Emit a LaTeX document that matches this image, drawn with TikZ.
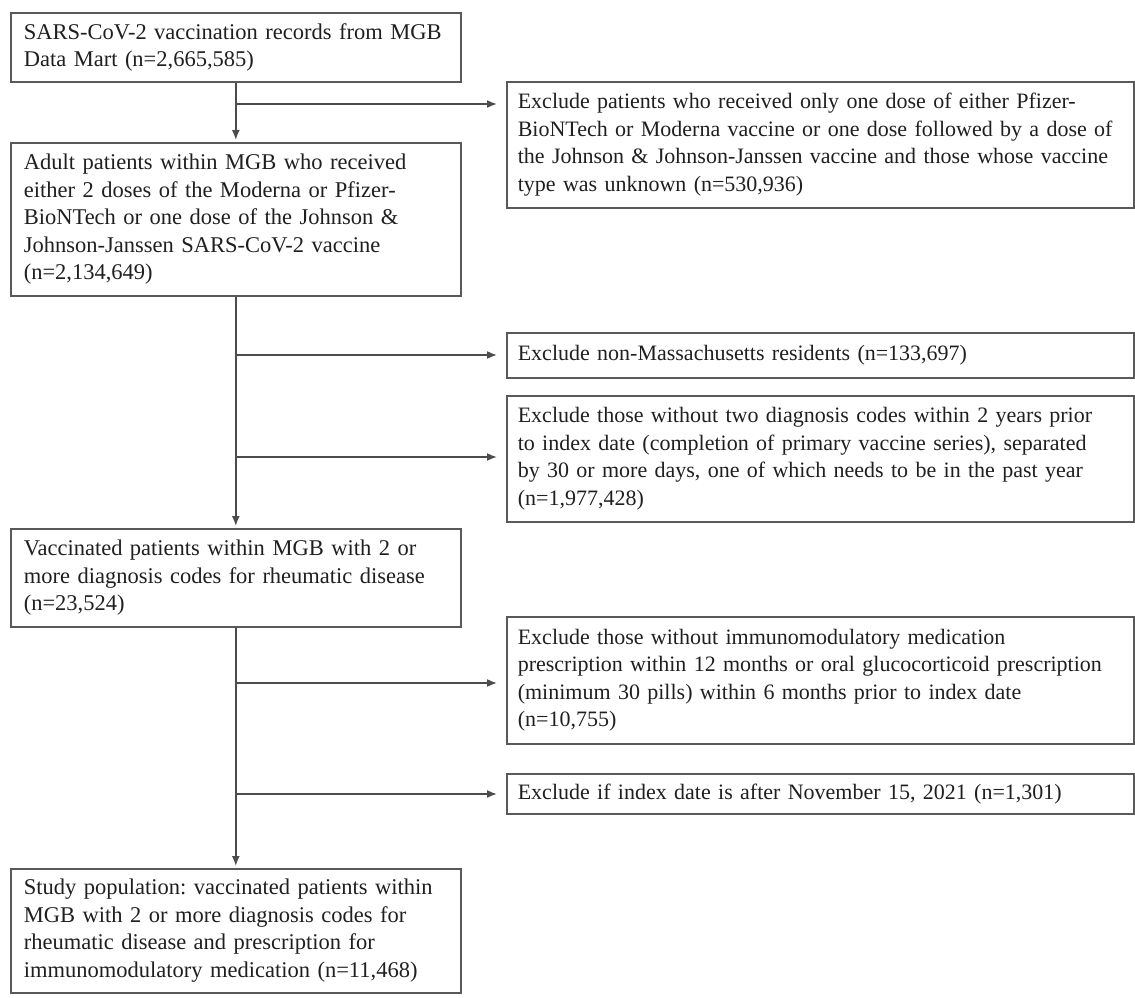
\documentclass[tikz,border=0pt]{standalone}
\usepackage{fontspec}
\setmainfont{Liberation Serif}
\frenchspacing
\usetikzlibrary{arrows.meta}
\begin{document}
\begin{tikzpicture}[x=1pt,y=-1pt,
    box/.style={draw=black!65,line width=1.6pt,anchor=north west,align=left,
        inner xsep=13pt,inner ysep=0pt,text=black!88,
        font=\fontsize{22.5}{27.6}\selectfont},
    lbox/.style={box,minimum width=450pt,text width=424pt},
    rbox/.style={box,inner xsep=11pt,minimum width=627pt,text width=605pt,
        font=\fontsize{22}{27.6}\selectfont},
    flow/.style={draw=black!70,line width=1.6pt,-{Latex[length=10pt,width=8pt]}}]
\useasboundingbox (0,0) rectangle (1135,998);
% main column
\node[lbox,minimum height=69pt] (records) at (10,12)
    {SARS-CoV-2 vaccination records from MGB\\Data Mart (n=2,665,585)};
\node[lbox,minimum height=153pt] (adults) at (10,142)
    {Adult patients within MGB who received\\either 2 doses of the Moderna or Pfizer-\\BioNTech or one dose of the Johnson \&\\Johnson-Janssen SARS-CoV-2 vaccine\\(n=2,134,649)};
\node[lbox,minimum height=98pt] (rheum) at (10,528)
    {Vaccinated patients within MGB with 2 or\\more diagnosis codes for rheumatic disease\\(n=23,524)};
\node[lbox,minimum height=124pt] (study) at (10,868)
    {Study population: vaccinated patients within\\MGB with 2 or more diagnosis codes for\\rheumatic disease and prescription for\\immunomodulatory medication (n=11,468)};
% exclusions
\node[rbox,minimum height=126pt] (drop1) at (506,81)
    {Exclude patients who received only one dose of either Pfizer-\\BioNTech or Moderna vaccine or one dose followed by a dose of\\the Johnson \& Johnson-Janssen vaccine and those whose vaccine\\type was unknown (n=530,936)};
\node[rbox,minimum height=45pt] (drop2) at (506,332)
    {Exclude non-Massachusetts residents (n=133,697)};
\node[rbox,minimum height=126pt] (drop3) at (506,395)
    {Exclude those without two diagnosis codes within 2 years prior\\to index date (completion of primary vaccine series), separated\\by 30 or more days, one of which needs to be in the past year\\(n=1,977,428)};
\node[rbox,minimum height=127pt] (drop4) at (506,616)
    {Exclude those without immunomodulatory medication\\prescription within 12 months or oral glucocorticoid prescription\\(minimum 30 pills) within 6 months prior to index date\\(n=10,755)};
\node[rbox,minimum height=40pt] (drop5) at (506,773)
    {Exclude if index date is after November 15, 2021 (n=1,301)};
% trunk
\draw[flow,shorten >=2pt] (records) -- (adults);
\draw[flow,shorten >=2pt] (adults) -- (rheum);
\draw[flow,shorten >=2pt] (rheum) -- (study);
% side arrows
\coordinate (s1) at (235,104);
\coordinate (s2) at (235,355);
\coordinate (s3) at (235,457);
\coordinate (s4) at (235,683);
\coordinate (s5) at (235,794);
\draw[flow,shorten >=9pt] (s1) -- (s1 -| drop1.west);
\draw[flow,shorten >=9pt] (s2) -- (s2 -| drop2.west);
\draw[flow,shorten >=9pt] (s3) -- (s3 -| drop3.west);
\draw[flow,shorten >=9pt] (s4) -- (s4 -| drop4.west);
\draw[flow,shorten >=9pt] (s5) -- (s5 -| drop5.west);
\end{tikzpicture}
\end{document}
